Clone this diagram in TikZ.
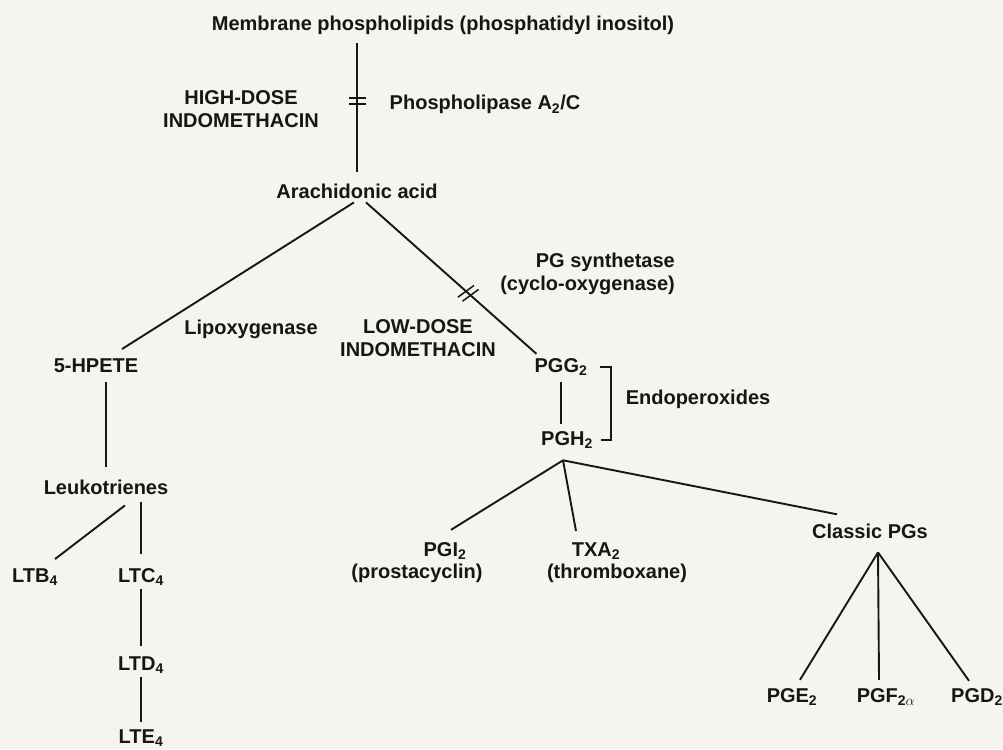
\documentclass[tikz,border=0pt]{standalone}
\usepackage{fontspec}
\setmainfont{Liberation Sans}
\definecolor{paper}{RGB}{246,244,239}
\definecolor{ink}{RGB}{22,22,22}

\begin{document}
\begin{tikzpicture}
[x=1pt, y=-1pt,
 every node/.style={font=\fontsize{20}{23}\selectfont\bfseries, text=ink, inner sep=4pt, anchor=base, align=center},
 link/.style={draw=ink, line width=1.9pt},
 block/.style={draw=ink, line width=1.5pt}]
\fill [paper] (0,0) rectangle (1003,749);
\useasboundingbox (0,0) rectangle (1003,749);

\node (1) at (443,31) {Membrane phospholipids (phosphatidyl inositol)};
\node (2) at (241,86) [anchor=north] {HIGH-DOSE\\INDOMETHACIN};
\node (3) at (485,110) {Phospholipase A\textsubscript{2}/C};
\node (4) at (357,198) {Arachidonic acid};
\node (5) at (251,334) {Lipoxygenase};
\node (6) at (679,249) [anchor=north east, align=right] {PG synthetase\\(cyclo-oxygenase)};
\node (7) at (418,315) [anchor=north] {LOW-DOSE\\INDOMETHACIN};
\node (8) at (96,372) {5-HPETE};
\node (9) at (561,372) {PGG\textsubscript{2}};
\node (10) at (698,404) {Endoperoxides};
\node (11) at (567,445) {PGH\textsubscript{2}};
\node (12) at (106,494) {Leukotrienes};
\node (13) at (445,556) {PGI\textsubscript{2}};
\node (14) at (417,578) {(prostacyclin)};
\node (15) at (596,556) {TXA\textsubscript{2}};
\node (16) at (617,578) {(thromboxane)};
\node (17) at (870,538) {Classic PGs};
\node (18) at (35,582) {LTB\textsubscript{4}};
\node (19) at (141,582) {LTC\textsubscript{4}};
\node (20) at (141,670) {LTD\textsubscript{4}};
\node (21) at (141,743) {LTE\textsubscript{4}};
\node (22) at (792,702) {PGE\textsubscript{2}};
\node (23) at (886,702) {PGF\textsubscript{2$\alpha$}};
\node (24) at (977,702) {PGD\textsubscript{2}};

\coordinate (f1) at ([xshift=-4pt,yshift=-8pt]11.south);
\coordinate (f2) at ([xshift=8pt,yshift=-10pt]17.south);

% phospholipids to arachidonic acid, blocked by high dose
\draw [link, shorten <=4pt, shorten >=7pt] (4.north |- 1.south) -- coordinate [pos=0.44] (c1) (4.north);
\draw [block] ([shift={(-8.5,-3)}]c1) -- +(17,0) ([shift={(-8.5,3)}]c1) -- +(17,0);

% the two pathways
\draw [link] ([xshift=-3pt]4.south) -- ([xshift=26pt,yshift=5pt]8.north);
\draw [link] ([xshift=9pt]4.south) -- coordinate [pos=0.6] (c2) ([xshift=6pt]9.north west);
\draw [block] ([shift={(-10.3,3.9)}]c2) -- +(16,-11.7) ([shift={(-5.7,7.9)}]c2) -- +(16,-11.7);

% endoperoxides
\draw [link, shorten <=3pt, shorten >=3pt] (9.south) -- (9.south |- 11.north);
\draw [link] ([xshift=8pt]9.east) -- ++(11,0) |- ([xshift=4pt]11.east);

% products of PGH2
\draw [link] (f1) -- ([xshift=6pt,yshift=8pt]13.north);
\draw [link] (f1) -- ([xshift=-20pt,yshift=7pt]15.north);
\draw [link] (f1) -- ([xshift=-33pt,yshift=5pt]17.north);
\draw [link] (f2) -- ([xshift=8pt,yshift=4pt]22.north);
\draw [link] (f2) -- ([xshift=-7pt,yshift=4pt]23.north);
\draw [link] (f2) -- ([xshift=-8pt,yshift=3pt]24.north);

% leukotrienes
\draw [link, shorten <=6pt, shorten >=8pt] (12.north |- 8.south) -- (12.north);
\draw [link] ([xshift=19pt,yshift=-7pt]12.south) -- ([xshift=-7pt,yshift=5pt]18.north east);
\draw [link, shorten <=4pt, shorten >=10pt] (19.north |- 12.south) -- (19.north);
\draw [link, shorten >=6pt] (19.south) -- (20.north);
\draw [link, shorten >=3pt] (20.south) -- (21.north);
\end{tikzpicture}
\end{document}
